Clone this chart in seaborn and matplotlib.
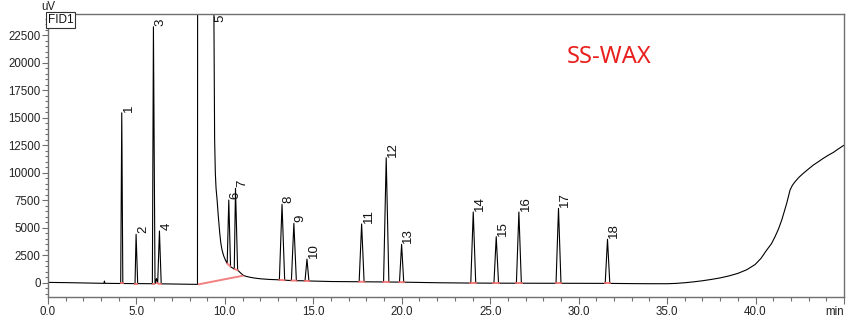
import matplotlib
matplotlib.use("Agg")
import matplotlib.pyplot as plt
import seaborn as sns
import pandas as pd
from matplotlib.ticker import MultipleLocator, FixedLocator

# ---------------- data ----------------
trace_time = [0.0, 1.0, 2.0, 3.0, 3.16, 3.19, 3.22,
              4.11, 4.17, 4.23,
              4.92, 4.98, 5.07,
              5.90, 5.96, 6.05, 6.13, 6.20, 6.30, 6.40,
              8.45, 8.48, 9.36, 9.38, 9.42, 9.46, 9.50, 9.56, 9.63, 9.71,
              9.77, 9.84, 9.93, 10.03,
              10.13, 10.22, 10.32, 10.53, 10.60, 10.72,
              10.88, 11.06, 11.25, 11.44, 11.7, 12.0, 12.5, 13.0,
              13.08, 13.23, 13.38,
              13.76, 13.90, 14.04,
              14.53, 14.64, 14.75,
              16.0,
              17.59, 17.73, 17.87,
              18.97, 19.12, 19.27,
              19.87, 19.99, 20.11,
              22.0,
              23.90, 24.04, 24.18,
              25.21, 25.34, 25.47,
              26.48, 26.62, 26.76,
              28.72, 28.86, 29.00,
              31.50, 31.63, 31.76,
              33.0, 34.0, 35.0, 35.5, 36.0, 36.5, 37.0, 37.5, 38.0, 38.5, 39.0,
              39.5, 39.97, 40.3, 40.63, 40.9, 41.10, 41.3,
              41.48, 41.62, 41.76, 41.86, 41.95, 42.08, 42.23, 42.45, 42.70, 43.0,
              43.27, 43.55, 43.83, 44.1, 44.40, 44.65, 44.93, 45.0]
trace_signal = [30, 10, -20, -50, -55, 150, -55,
                -70, 15450, -70,
                -80, 4400, -80,
                -90, 23270, -90, 380, -50, 4700, -100,
                -150, 90000, 90000, 24000, 13000, 9950, 8600, 7520, 6000, 4500,
                3600, 2970, 2450, 2060,
                1750, 7520, 1450, 1250, 8580, 1150,
                900, 650, 560, 490, 420, 360, 300, 270,
                250, 7130, 230,
                200, 5400, 190,
                170, 2150, 160,
                110,
                90, 5340, 85,
                70, 11360, 65,
                55, 3490, 50,
                0,
                -30, 6430, -30,
                -40, 4190, -40,
                -45, 6430, -45,
                -50, 6760, -50,
                -60, 3950, -60,
                -80, -90, -90, -60, 0, 80, 180, 300, 440, 620, 850,
                1180, 1650, 2200, 2970, 3550, 4180, 4900,
                5700, 6450, 7220, 7850, 8430, 8850, 9180, 9580, 9950, 10350,
                10700, 11000, 11310, 11580, 11850, 12130, 12430, 12500]

peak_labels = [str(i) for i in range(1, 19)]
peak_rt = [4.17, 4.98, 5.96, 6.30, 9.37, 10.22, 10.60, 13.23, 13.90, 14.64,
           17.73, 19.12, 19.99, 24.04, 25.34, 26.62, 28.86, 31.63]
peak_height = [15450, 4400, 23270, 4700, 90000, 7520, 8580, 7130, 5400, 2150,
               5340, 11360, 3490, 6430, 4190, 6430, 6760, 3950]

# integration baselines (start time, start signal, end time, end signal)
bl_t0 = [4.08, 4.88, 5.86, 6.08, 6.20, 8.47, 10.10, 10.50, 13.03, 13.70, 14.46,
         17.52, 18.90, 19.80, 23.82, 25.12, 26.40, 28.64, 31.42]
bl_s0 = [-70, -80, -90, -70, -90, -160, 1800, 1270, 255, 205, 175,
         92, 72, 57, -30, -40, -45, -50, -60]
bl_t1 = [4.27, 5.10, 6.05, 6.20, 6.44, 11.06, 10.34, 10.76, 13.43, 14.10, 14.82,
         17.94, 19.34, 20.18, 24.26, 25.56, 26.84, 29.08, 31.84]
bl_s1 = [-70, -80, -90, -70, -100, 650, 1430, 1120, 225, 185, 155,
         83, 62, 48, -30, -40, -45, -50, -60]

x_ticks = [0, 5, 10, 15, 20, 25, 30, 35, 40]
y_ticks = [0, 2500, 5000, 7500, 10000, 12500, 15000, 17500, 20000, 22500]

# ---------------- style ----------------
sns.set_theme(style="white")
plt.rcParams["font.family"] = ["Liberation Sans", "DejaVu Sans"]

fig = plt.figure(figsize=(8.56, 3.22), dpi=100)
ax = fig.add_axes([48 / 856, 1 - 296.7 / 322, 796 / 856, (296.7 - 14) / 322])

df = pd.DataFrame({"time": trace_time, "signal": trace_signal})
sns.lineplot(data=df, x="time", y="signal", ax=ax, color="black",
             linewidth=0.8, estimator=None, sort=False)

for t0, s0, t1, s1 in zip(bl_t0, bl_s0, bl_t1, bl_s1):
    ax.plot([t0, t1], [s0, s1], color="#f06a6a", linewidth=1.4, alpha=0.85,
            solid_capstyle="butt", zorder=3)

ymin, ymax = -1270, 24430
ax.set_xlim(0, 45)
ax.set_ylim(ymin, ymax)

for lab, rt, h in zip(peak_labels, peak_rt, peak_height):
    if h < ymax:
        ax.annotate(lab, xy=(rt, h), xytext=(0.6, 0.8), textcoords="offset points",
                    rotation=90, ha="left", va="bottom", fontsize=9.5, color="#111111")
    else:
        ax.annotate(lab, xy=(rt, ymax), xytext=(0.3, -0.5), textcoords="offset points",
                    rotation=90, ha="left", va="top", fontsize=9.5, color="#111111")

# ticks
ax.xaxis.set_major_locator(FixedLocator(x_ticks + [45]))
ax.set_xticklabels([f"{v:.1f}" for v in x_ticks] + ["min"])
ax.get_xticklabels()[-1].set_horizontalalignment("right")
ax.xaxis.set_minor_locator(MultipleLocator(1))
ax.yaxis.set_major_locator(FixedLocator(y_ticks))
ax.set_yticklabels([str(v) for v in y_ticks])
ax.yaxis.set_minor_locator(MultipleLocator(500))

ax.tick_params(axis="both", which="both", direction="out", color="#707070",
               labelsize=8.3, labelcolor="#222222", bottom=True, left=True,
               top=False, right=False)
ax.tick_params(axis="x", which="major", length=5, width=0.8, pad=2)
ax.tick_params(axis="x", which="minor", length=3, width=0.8)
ax.tick_params(axis="y", which="major", length=4.5, width=0.8, pad=0.8)
ax.tick_params(axis="y", which="minor", length=2.2, width=0.8)
ax.set_xlabel("")
ax.set_ylabel("")

for sp in ax.spines.values():
    sp.set_visible(True)
    sp.set_color("#707070")
    sp.set_linewidth(1.0)

# labels
fig.text(48 / 856, 1 - 7.5 / 322, "uV", ha="center", va="center", fontsize=8.3,
         color="#222222")
ax.text(0.0, 1.0, "FID1", transform=ax.transAxes, ha="left", va="top",
        fontsize=8.5, color="#111111",
        bbox=dict(boxstyle="square,pad=0.15", facecolor="white",
                  edgecolor="#333333", linewidth=0.8))
fig.text(609 / 856, 1 - 57 / 322, "SS-WAX", ha="center", va="center",
         fontsize=17, color="#e8201e", family=["Noto Sans", "DejaVu Sans"])

fig.savefig("out.png", dpi=100)
